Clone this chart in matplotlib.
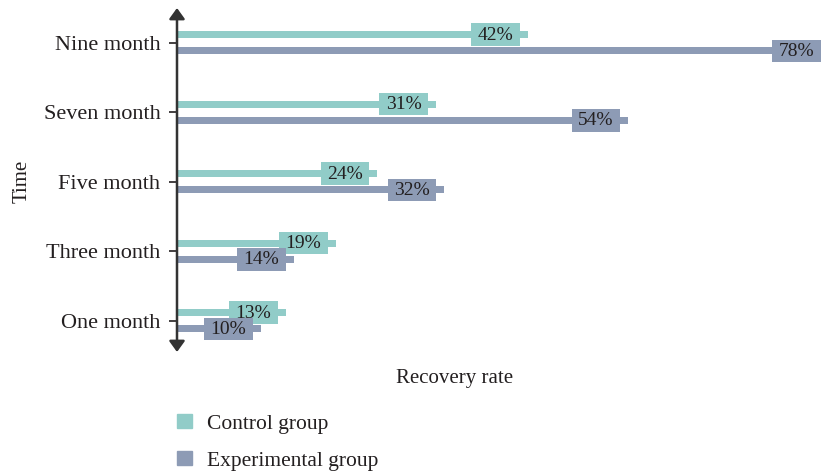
import numpy as np
import matplotlib
matplotlib.use("Agg")
import matplotlib.pyplot as plt
from matplotlib.patches import Patch, Rectangle
from matplotlib.transforms import IdentityTransform

plt.rcParams['font.family'] = ['Liberation Serif', 'DejaVu Serif']

categories = ['One month', 'Three month', 'Five month', 'Seven month', 'Nine month']
control = [13, 19, 24, 31, 42]
experimental = [10, 14, 32, 54, 78]

c_control = '#91CCC8'
c_exp = '#8D9BB5'
txt = '#231F20'

W, H = 821, 474
fig = plt.figure(figsize=(W / 100, H / 100), dpi=100)
# axes placed in pixel terms: axis line at x=177, arrows from y=8 to y=352
ax = fig.add_axes([177 / W, (H - 352) / H, (W - 177) / W, 344 / H])

y = np.arange(len(categories))
bh = 0.1
off = 0.117
ax.barh(y + off, control, height=bh, color=c_control, label='Control group')
ax.barh(y - off, experimental, height=bh, color=c_exp, label='Experimental group')

ax.set_xlim(0, 77.1)
ax.set_ylim(-0.45, 4.5)

renderer = fig.canvas.get_renderer()

def put_labels(ys, vals, color):
    # label sits a little inside the bar end, on a box of the bar's colour
    for yy, v in zip(ys, vals):
        t = ax.annotate(f'{v}%', xy=(v, yy), xytext=(-14.5, -0.5), textcoords='offset pixels',
                        ha='right', va='center', fontsize=14, color=txt,
                        zorder=5, annotation_clip=False)
        bb = t.get_window_extent(renderer)
        cy = ax.transData.transform((v, yy))[1]
        ax.add_patch(Rectangle((bb.x0 - 6.5, cy - 11.3), bb.width + 13, 22.6,
                               transform=IdentityTransform(), fc=color, ec='none',
                               zorder=4, clip_on=False))

put_labels(y + off, control, c_control)
put_labels(y - off, experimental, c_exp)

for s in ['top', 'right', 'bottom', 'left']:
    ax.spines[s].set_visible(False)
ax.set_xticks([])
ax.set_yticks(y)
ax.set_yticklabels(categories, fontsize=16, color=txt)
ax.tick_params(axis='y', length=6, width=1.2, color=txt, pad=6)

# vertical axis with arrow heads at both ends
ax.annotate('', xy=(0, 4.5), xytext=(0, -0.45), xycoords='data',
            arrowprops=dict(arrowstyle='<|-|>,head_length=0.65,head_width=0.47',
                            color='#333333', lw=1.8, shrinkA=0, shrinkB=0),
            annotation_clip=False)

fig.text(455 / W, 1 - 378 / H, 'Recovery rate', ha='center', va='center', fontsize=15, color=txt)
fig.text(22 / W, 1 - 181 / H, 'Time', ha='center', va='center', rotation=90, fontsize=15, color=txt)

handles = [Patch(color=c_control), Patch(color=c_exp)]
fig.legend(handles, ['Control group', 'Experimental group'], loc='upper left',
           bbox_to_anchor=(177 / W, 1 - 414 / H), frameon=False, fontsize=15.5,
           handlelength=0.7, handleheight=0.65, handletextpad=0.7,
           labelspacing=0.8, borderpad=0, borderaxespad=0, labelcolor=txt)

fig.savefig('out.png', dpi=100)
